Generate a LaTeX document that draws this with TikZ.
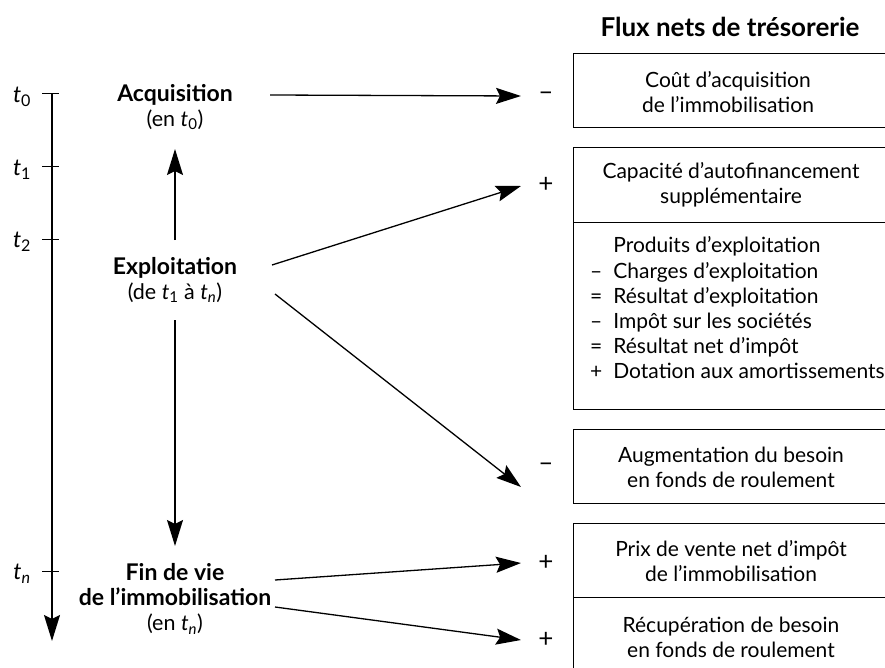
\documentclass[tikz,border=0pt]{standalone}
\usepackage{fontspec}
\setmainfont{Lato}
\usetikzlibrary{arrows.meta,calc}
\newcommand\phasebold{\bfseries\fontsize{23}{25}\selectfont}

\begin{document}
\begin{tikzpicture}[x=1pt,y=-1pt,
  flow/.style={line width=1.3pt,-{Stealth[length=25pt,width=16pt,inset=4pt]}},
  vflow/.style={line width=1.3pt,-{Stealth[length=26pt,width=16pt,inset=4pt]}},
  frame/.style={line width=1pt},
  boxtxt/.style={font=\fontsize{21}{25}\selectfont,align=center,inner sep=0pt},
  phase/.style={font=\fontsize{21.5}{25}\selectfont,align=center,inner sep=0pt},
  sign/.style={font=\fontsize{26}{26}\selectfont,inner sep=0pt},
  tlab/.style={font=\fontsize{23}{24}\selectfont,inner sep=0pt},
  head/.style={font=\bfseries\fontsize{26}{28}\selectfont,inner sep=0pt}]
\useasboundingbox (0,0) rectangle (885,668);

% heading
\node[head] (title) at (730,27) {Flux nets de trésorerie};

% boxes on the right (open on the right side)
\draw[frame] (895,54) -- (573,54) -- (573,128) -- (895,128);
\draw[frame] (895,148) -- (573,148) -- (573,409) -- (895,409);
\draw[frame] (573,223) -- (895,223);
\draw[frame] (895,429) -- (573,429) -- (573,503) -- (895,503);
\draw[frame] (895,523) -- (573,523) -- (573,680);
\draw[frame] (573,597) -- (895,597);

% box contents
\node[boxtxt] (cout) at (728,92) {Coût d’acquisition\\de l’immobilisation};
\node[boxtxt] (caf) at (731,185) {Capacité d’autofinancement\\supplémentaire};
\node[boxtxt,anchor=north west,font=\fontsize{21}{25.2}\selectfont] (calc) at (590,235)
  {\begin{tabular}{@{}c@{\hspace{11pt}}l@{}}
     & Produits d’exploitation\\
   – & Charges d’exploitation\\
   = & Résultat d’exploitation\\
   – & Impôt sur les sociétés\\
   = & Résultat net d’impôt\\
   + & Dotation aux amortissements
   \end{tabular}};
\node[boxtxt] (bfr) at (731,467) {Augmentation du besoin\\en fonds de roulement};
\node[boxtxt] (prix) at (731,561) {Prix de vente net d’impôt\\de l’immobilisation};
\node[boxtxt] (recup) at (731,637) {Récupération de besoin\\en fonds de roulement};

% signs
\node[sign] (s1) at (546,96) {–};
\node[sign] (s2) at (546,185) {+};
\node[sign] (s3) at (546,467) {–};
\node[sign] (s4) at (546,563) {+};
\node[sign] (s5) at (546,640) {+};

% phases
\node[phase] (acq) at (175,107) {{\phasebold Acquisition}\\(en \textit{t}\textsubscript{0})};
\node[phase] (expl) at (175,280) {{\phasebold Exploitation}\\(de \textit{t}\textsubscript{1} à \textit{t}\textsubscript{\textit{n}})};
\node[phase] (fin) at (175,599) {{\phasebold Fin de vie}\\{\phasebold de l’immobilisation}\\(en \textit{t}\textsubscript{\textit{n}})};

% arrow end points
\coordinate (acqR) at (270,95);
\coordinate (exR1) at (272,265);
\coordinate (exR2) at (275,294);
\coordinate (exT) at (175,240);
\coordinate (exB) at (175,320);
\coordinate (acqB) at (175,149);
\coordinate (finT) at (175,546);
\coordinate (finR1) at (275,580);
\coordinate (finR2) at (275,607);
\coordinate (e1) at (521,96);
\coordinate (e2) at (521,186);
\coordinate (e3) at (521,487);
\coordinate (e4) at (521,563);
\coordinate (e5) at (521,640);

\draw[flow] (acqR) -- (e1);
\draw[flow] (exR1) -- (e2);
\draw[flow] (exR2) -- (e3);
\draw[flow] (finR1) -- (e4);
\draw[flow] (finR2) -- (e5);
\draw[vflow] (exT) -- (acqB);
\draw[vflow] (exB) -- (finT);

% time axis
\coordinate (axtop) at (52,94);
\coordinate (axbot) at (52,641);
\draw[vflow] (axtop) -- (axbot);
\foreach \yy in {94,167,239,571}
  \draw[line width=1pt] (42,\yy) -- (59,\yy);
\node[tlab] (t0) at (22,97) {\textit{t}\textsubscript{0}};
\node[tlab] (t1) at (22,170) {\textit{t}\textsubscript{1}};
\node[tlab] (t2) at (22,242) {\textit{t}\textsubscript{2}};
\node[tlab] (tn) at (22,574) {\textit{t}\textsubscript{\textit{n}}};
\end{tikzpicture}
\end{document}
